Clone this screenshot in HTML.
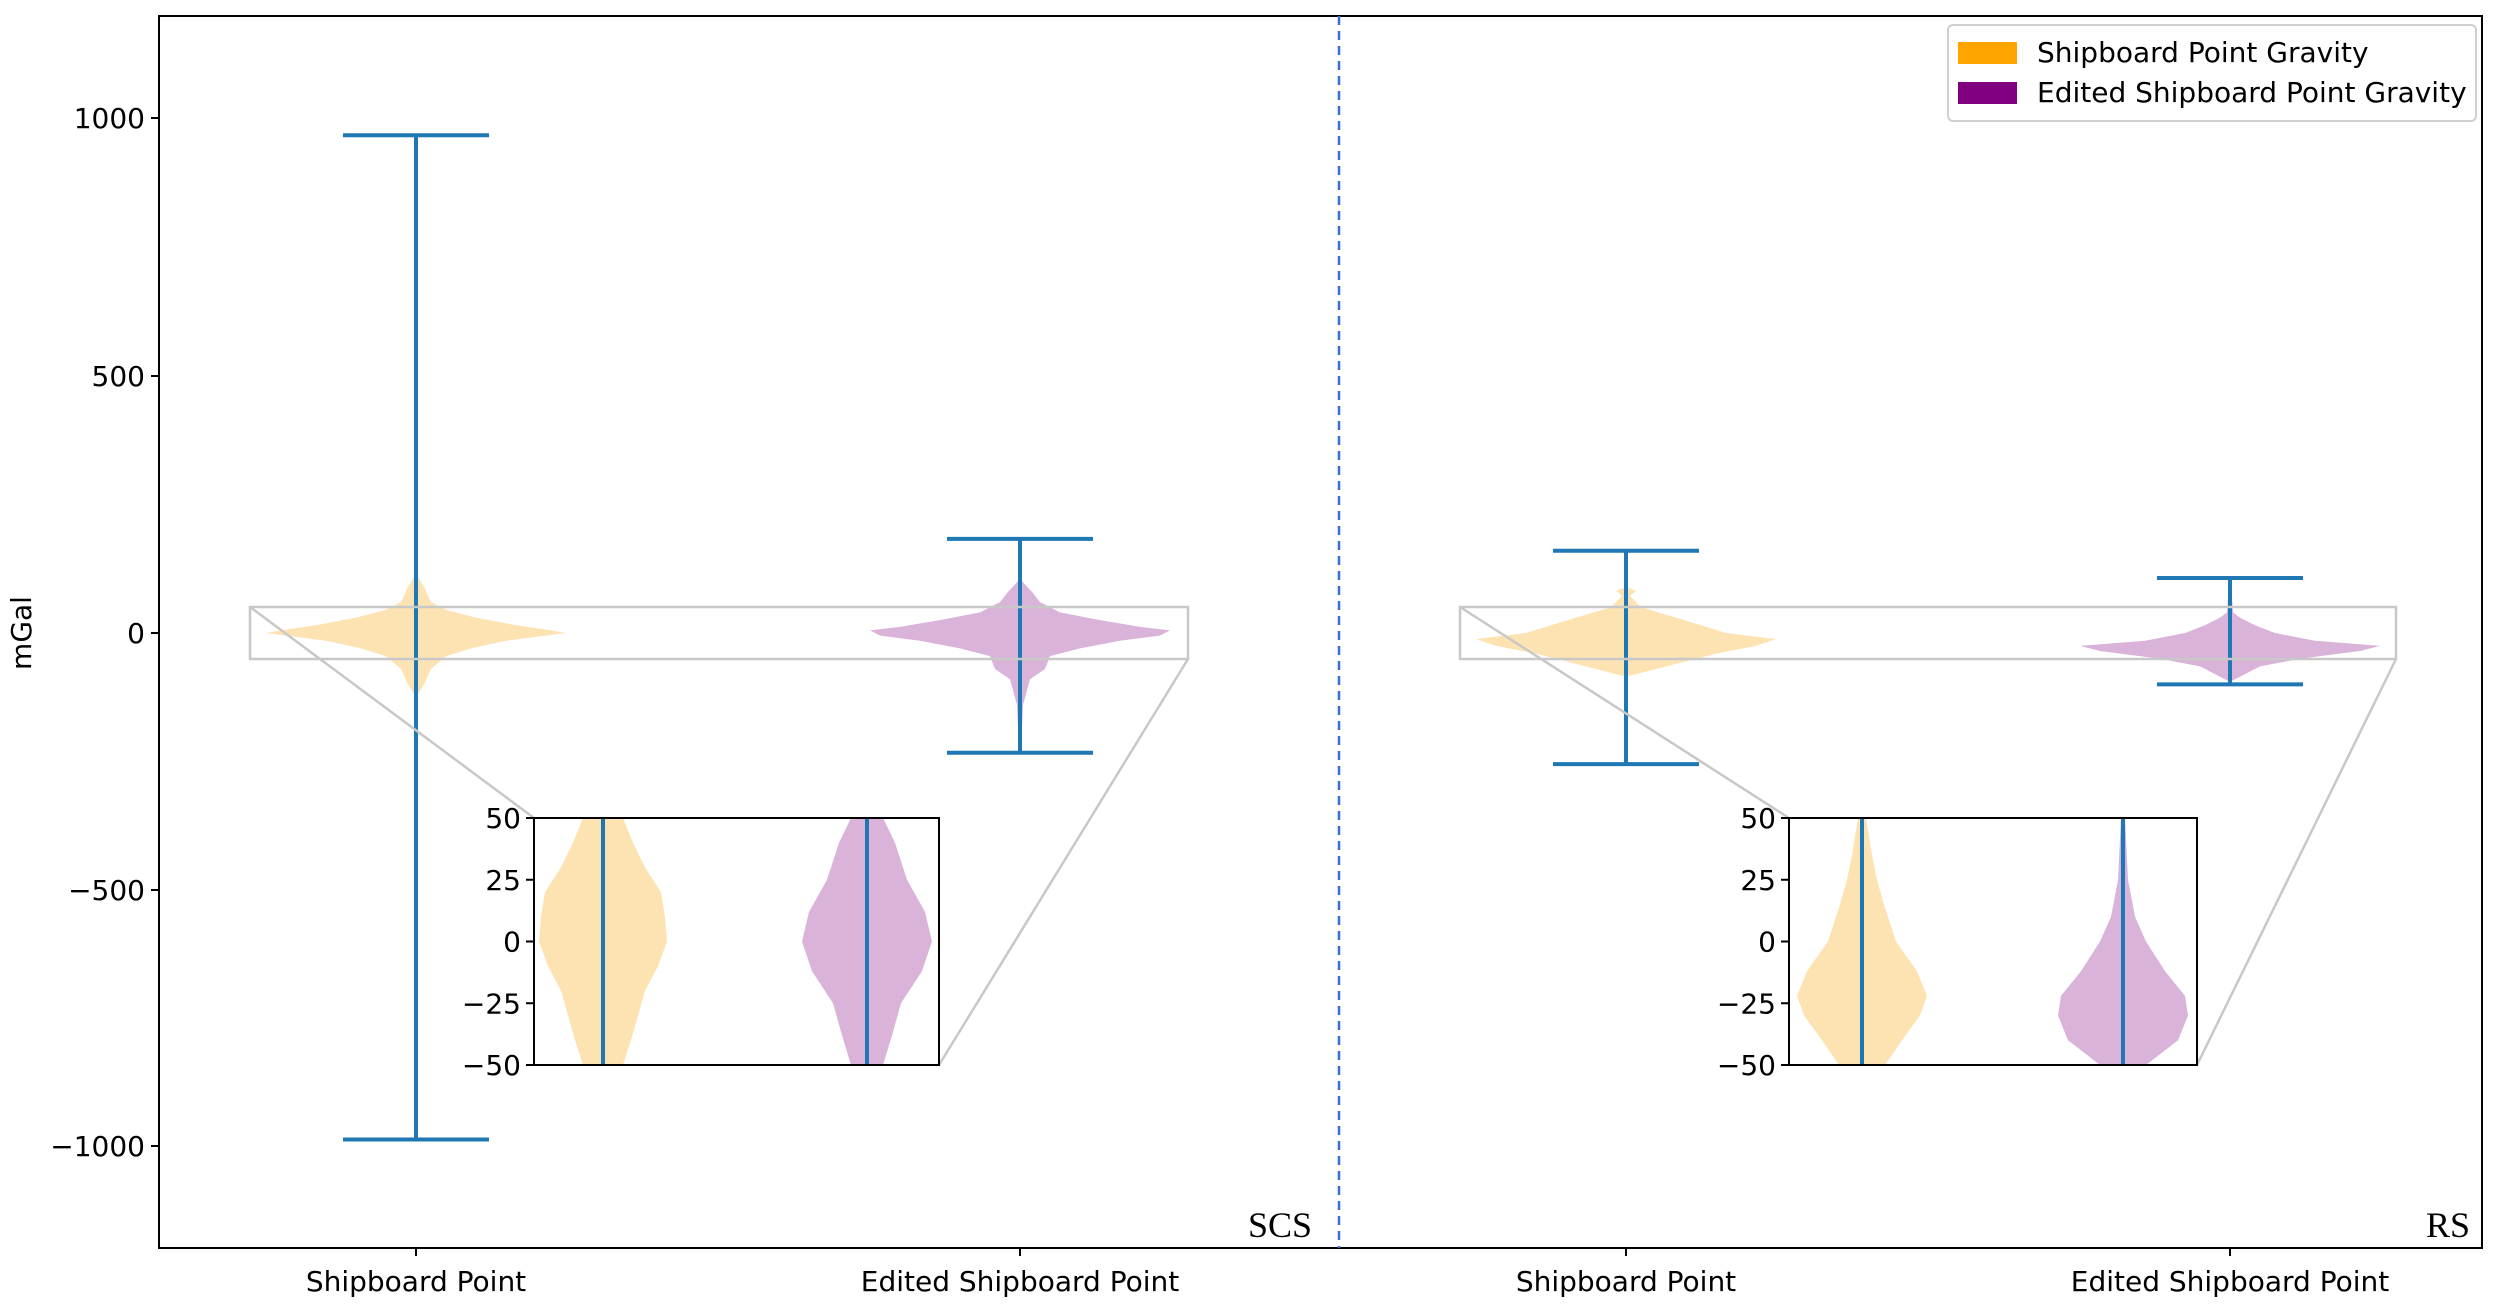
<!DOCTYPE html>
<html><head><meta charset="utf-8"><style>
html,body{margin:0;padding:0;background:#fff;}
svg{display:block;font-family:"DejaVu Sans","Liberation Sans",sans-serif;}
</style></head><body>
<svg id="s" width="2500" height="1309" viewBox="0 0 2500 1309" xmlns="http://www.w3.org/2000/svg">
<defs>
<clipPath id="c1"><rect x="534" y="818" width="405" height="247"/></clipPath>
<clipPath id="c2"><rect x="1789" y="818" width="408" height="247"/></clipPath>
</defs>
<rect width="2500" height="1309" fill="#fff"/>
<g id="main"></g>
<rect x="250" y="607" width="938" height="52" fill="none" stroke="#c8c8c8" stroke-width="2.5"/>
<rect x="1460" y="607" width="936" height="52" fill="none" stroke="#c8c8c8" stroke-width="2.5"/>
<line x1="250" y1="607" x2="534" y2="818" stroke="#c8c8c8" stroke-width="2.5"/>
<line x1="1188" y1="659" x2="939" y2="1065" stroke="#c8c8c8" stroke-width="2.5"/>
<line x1="1460" y1="607" x2="1789" y2="818" stroke="#c8c8c8" stroke-width="2.5"/>
<line x1="2396" y1="659" x2="2197" y2="1065" stroke="#c8c8c8" stroke-width="2.5"/>
<g id="inset"></g>
<rect x="159" y="16" width="2323" height="1232" fill="none" stroke="#000" stroke-width="2"/>
<line x1="1339" y1="16" x2="1339" y2="1248" stroke="#3a6fd8" stroke-width="2.5" stroke-dasharray="9,6"/>
<g font-size="28" text-anchor="end" fill="#000">
<line x1="151" y1="118" x2="159" y2="118" stroke="#000" stroke-width="2"/><text x="145" y="128">1000</text>
<line x1="151" y1="376" x2="159" y2="376" stroke="#000" stroke-width="2"/><text x="145" y="386">500</text>
<line x1="151" y1="633" x2="159" y2="633" stroke="#000" stroke-width="2"/><text x="145" y="643">0</text>
<line x1="151" y1="890" x2="159" y2="890" stroke="#000" stroke-width="2"/><text x="145" y="900">−500</text>
<line x1="151" y1="1146" x2="159" y2="1146" stroke="#000" stroke-width="2"/><text x="145" y="1156">−1000</text>
</g>
<text transform="translate(31,633) rotate(-90)" font-size="28" text-anchor="middle">mGal</text>
<g font-size="28" text-anchor="middle">
<line x1="416" y1="1248" x2="416" y2="1256" stroke="#000" stroke-width="2"/><text x="416" y="1291">Shipboard Point</text>
<line x1="1020" y1="1248" x2="1020" y2="1256" stroke="#000" stroke-width="2"/><text x="1020" y="1291">Edited Shipboard Point</text>
<line x1="1626" y1="1248" x2="1626" y2="1256" stroke="#000" stroke-width="2"/><text x="1626" y="1291">Shipboard Point</text>
<line x1="2230" y1="1248" x2="2230" y2="1256" stroke="#000" stroke-width="2"/><text x="2230" y="1291">Edited Shipboard Point</text>
</g>
<text x="1248" y="1237" font-family="Liberation Serif,serif" font-size="36">SCS</text>
<text x="2426" y="1237" font-family="Liberation Serif,serif" font-size="36">RS</text>
<rect x="1948" y="25" width="528" height="96" rx="5" fill="#fff" stroke="#d0d0d0" stroke-width="2"/>
<rect x="1958" y="42" width="59" height="22" fill="#FFA500"/>
<rect x="1958" y="82" width="59" height="22" fill="#800080"/>
<text x="2037" y="62" font-size="28">Shipboard Point Gravity</text>
<text x="2037" y="102" font-size="28">Edited Shipboard Point Gravity</text>
</svg>
<script>
const NS="http://www.w3.org/2000/svg";
function el(p,t,a){const e=document.createElementNS(NS,t);for(const k in a)e.setAttribute(k,a[k]);p.appendChild(e);return e;}
function violin(p,cx,prof,fy,fill,clip){
 let R=prof.map(q=>(cx+q[1])+","+fy(q[0]));
 let L=prof.slice().reverse().map(q=>(cx-q[1])+","+fy(q[0]));
 const a={points:R.concat(L).join(" "),fill:fill};
 if(clip)a["clip-path"]=clip;
 el(p,"polygon",a);
}
const OR="#FEE3B2",PU="#D9B3D9",BL="#1f77b4";
const m=document.getElementById("main");
const fm=v=>633-v*0.5142;
const V=[
 [416,OR,[[115,0],[90,8],[60,15],[45,30],[30,60],[15,100],[5,135],[0,150],[-5,130],[-15,90],[-30,55],[-45,30],[-70,15],[-100,8],[-125,0]],968,-985],
 [1020,PU,[[105,0],[80,12],[60,20],[40,40],[25,80],[12,120],[5,150],[-5,140],[-15,100],[-30,60],[-45,30],[-70,25],[-90,10],[-140,3],[-230,1]],183,-233],
 [1626,OR,[[90,0],[82,10],[72,4],[50,15],[30,50],[15,75],[0,100],[-12,150],[-25,130],[-40,90],[-50,70],[-70,30],[-85,0]],160,-255],
 [2230,PU,[[100,1],[40,3],[30,10],[15,25],[0,45],[-15,85],[-25,150],[-35,130],[-50,70],[-65,30],[-80,15],[-95,0]],107,-100]
];
for(const v of V){
 violin(m,v[0],v[2],fm,v[1]);
 el(m,"line",{x1:v[0],x2:v[0],y1:fm(v[3]),y2:fm(v[4]),stroke:BL,"stroke-width":4});
 for(const y of [v[3],v[4]])el(m,"line",{x1:v[0]-73,x2:v[0]+73,y1:fm(y),y2:fm(y),stroke:BL,"stroke-width":4});
}
const g=document.getElementById("inset");
const fi=v=>941.5-v*2.47;
[[534,405],[1789,408]].forEach(b=>el(g,"rect",{x:b[0],y:818,width:b[1],height:247,fill:"#fff"}));
const I=[
 [603,OR,[[55,18],[50,20],[40,30],[30,42],[20,58],[10,62],[0,64],[-10,55],[-20,42],[-30,35],[-40,28],[-50,20],[-55,18]],"url(#c1)"],
 [867,PU,[[55,14],[50,16],[40,28],[25,40],[12,58],[0,65],[-12,55],[-25,34],[-38,25],[-50,16],[-55,14]],"url(#c1)"],
 [1862,OR,[[55,2],[50,4],[35,10],[25,15],[15,22],[0,34],[-12,55],[-22,65],[-30,58],[-40,40],[-50,23],[-55,15]],"url(#c2)"],
 [2123,PU,[[55,1],[50,2],[25,5],[10,12],[0,23],[-12,42],[-22,62],[-30,65],[-40,55],[-50,23],[-55,12]],"url(#c2)"]
];
for(const v of I){
 violin(g,v[0],v[2],fi,v[1],v[3]);
 el(g,"line",{x1:v[0],x2:v[0],y1:818,y2:1065,stroke:BL,"stroke-width":4});
}
for(const b of [[534,405],[1789,408]]){
 el(g,"rect",{x:b[0],y:818,width:b[1],height:247,fill:"none",stroke:"#000","stroke-width":2});
 [50,25,0,-25,-50].forEach(t=>{
  el(g,"line",{x1:b[0]-8,x2:b[0],y1:fi(t),y2:fi(t),stroke:"#000","stroke-width":2});
  const tx=el(g,"text",{x:b[0]-13,y:fi(t)+10,"font-size":28,"text-anchor":"end"});
  tx.textContent=t<0?"\u2212"+(-t):String(t);
 });
}
</script>
</body></html>
